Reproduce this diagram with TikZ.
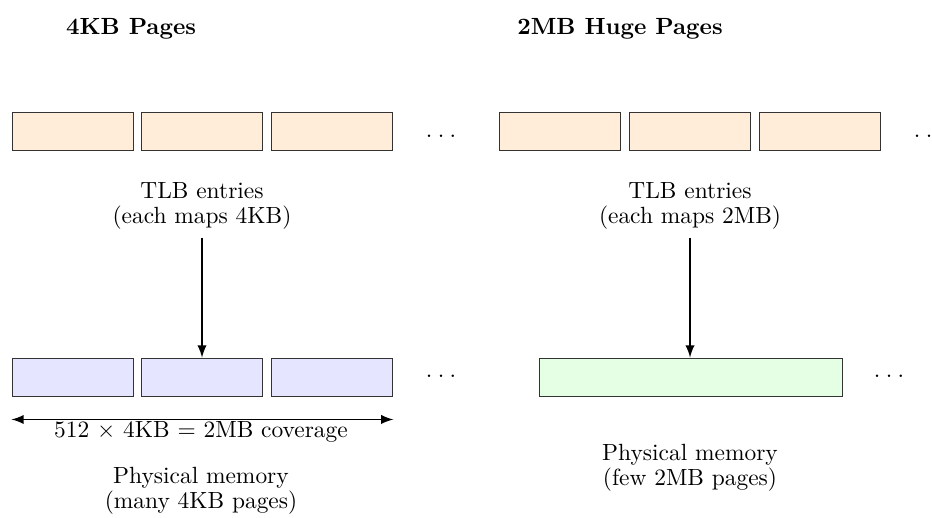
\documentclass[tikz,border=0pt]{standalone}
\usetikzlibrary{positioning}
\newcommand{\moredots}{.\kern2.3pt.\kern2.3pt.}
\begin{document}
\begin{tikzpicture}[
    every node/.style={font=\fontsize{10}{10.8}\selectfont, align=center},
    page/.style={draw=black!80, minimum width=1.815cm, minimum height=0.57cm, inner sep=0pt},
    tlb/.style={page, fill=orange!15},
    small/.style={page, fill=blue!10},
    huge/.style={page, fill=green!10, minimum width=4.545cm},
    heading/.style={font=\bfseries},
    dots/.style={anchor=base},
    arrow/.style={->, >=latex, thick}
]
  \useasboundingbox (0,0) rectangle (13.98,7.755);

  % Headings
  \node[heading] (headL) at (1.965,7.32) {4KB Pages};
  \node[heading] (headR) at (9.30,7.32) {2MB Huge Pages};

  % TLB entries, 4KB side
  \node[tlb] (tlbA) at (1.0875,5.79) {};
  \node[tlb, right=0.12cm of tlbA] (tlbB) {};
  \node[tlb, right=0.12cm of tlbB] (tlbC) {};
  \node[dots] (dotsTL) at (6.615,5.69) {\moredots};

  % TLB entries, 2MB side
  \node[tlb] (tlbD) at (8.40,5.79) {};
  \node[tlb, right=0.12cm of tlbD] (tlbE) {};
  \node[tlb, right=0.12cm of tlbE] (tlbF) {};
  \node[dots] (dotsTR) at (13.935,5.69) {\moredots};

  \node (tlbLblL) at (3.03,4.665) {TLB entries\\(each maps 4KB)};
  \node (tlbLblR) at (10.35,4.665) {TLB entries\\(each maps 2MB)};

  % Physical memory
  \node[small] (memA) at (1.0875,2.10) {};
  \node[small, right=0.12cm of memA] (memB) {};
  \node[small, right=0.12cm of memB] (memC) {};
  \node[dots] (dotsBL) at (6.615,2.09) {\moredots};

  \node[huge] (memH) at (10.3575,2.10) {};
  \node[dots] (dotsBR) at (13.335,2.09) {\moredots};

  % Mapping arrows
  \draw[arrow] (tlbLblL.south) -- (tlbLblL.south |- memB.north);
  \draw[arrow] (tlbLblR.south) -- (tlbLblR.south |- memH.north);

  % Coverage
  \coordinate (covL) at ([yshift=-0.345cm]memA.south west);
  \coordinate (covR) at ([yshift=-0.345cm]memC.south east);
  \draw[arrow, <->] (covL) -- (covR);
  \node (covLbl) at (3.015,1.275) {512 $\times$ 4KB = 2MB coverage};

  \node (physL) at (3.015,0.39) {Physical memory\\(many 4KB pages)};
  \node (physR) at (10.35,0.735) {Physical memory\\(few 2MB pages)};
\end{tikzpicture}
\end{document}
